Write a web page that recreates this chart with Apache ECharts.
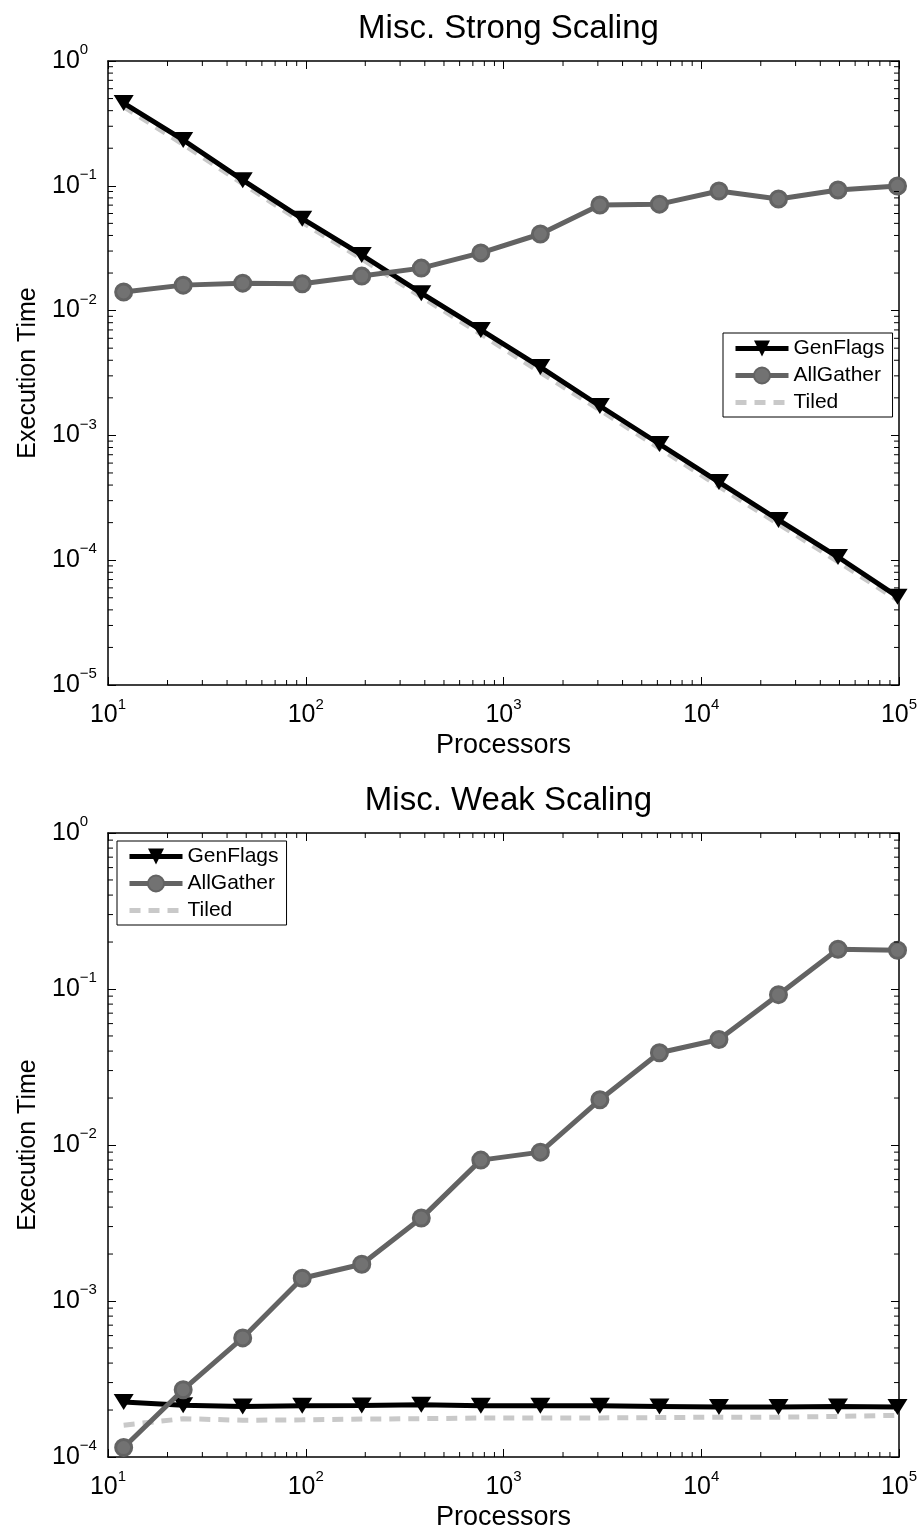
<!DOCTYPE html>
<html>
<head>
<meta charset="utf-8">
<script src="https://cdn.jsdelivr.net/npm/echarts@6/dist/echarts.min.js"></script>
<style>
html,body{margin:0;padding:0;background:#fff;}
#chart{width:922px;height:1533px;}
</style>
</head>
<body>
<div id="chart"></div>
<script>
// ---- data ----
const processors = [12, 24, 48, 96, 192, 384, 768, 1536, 3072, 6144, 12288, 24576, 49152, 98304];

const strongGenFlags = [0.46, 0.233, 0.111, 0.0545, 0.0279, 0.0138, 0.0070, 0.00353, 0.00172, 0.000853, 0.000423, 0.000210, 0.000106, 0.0000510];
const strongAllGather = [0.0141, 0.0160, 0.0166, 0.0164, 0.0189, 0.0219, 0.0290, 0.0411, 0.0702, 0.0713, 0.0908, 0.0784, 0.0925, 0.0996];
const strongTiled = [0.43, 0.215, 0.104, 0.051, 0.026, 0.0129, 0.0065, 0.0032, 0.0016, 0.00079, 0.00039, 0.000195, 0.0000975, 0.0000480];

const weakGenFlags = [0.000225, 0.000215, 0.000211, 0.000213, 0.000214, 0.000216, 0.000213, 0.000213, 0.000213, 0.000211, 0.000209, 0.000209, 0.000211, 0.000209];
const weakAllGather = [0.000115, 0.000270, 0.000580, 0.00140, 0.00172, 0.00340, 0.00800, 0.00900, 0.0195, 0.0390, 0.0475, 0.0920, 0.180, 0.177];
const weakTiled = [0.000160, 0.000176, 0.000172, 0.000173, 0.000175, 0.000176, 0.000178, 0.000178, 0.000178, 0.000179, 0.000180, 0.000180, 0.000182, 0.000185];

const seriesNames = ['GenFlags', 'AllGather', 'Tiled'];
const titles = ['Misc. Strong Scaling', 'Misc. Weak Scaling'];
const xLabel = 'Processors';
const yLabel = 'Execution Time';
const xRange = [10, 100000];
const yRanges = [[1e-5, 1], [1e-4, 1]];
// ---- end data ----

const FONT = 'Liberation Sans, Arial, Helvetica, sans-serif';
const chart = echarts.init(document.getElementById('chart'), null, {renderer: 'canvas'});

function minorValues(lo, hi) {
  const out = [];
  for (let e = Math.round(Math.log10(lo)); e < Math.round(Math.log10(hi)); e++) {
    for (let m = 2; m <= 9; m++) out.push(m * Math.pow(10, e));
  }
  return out;
}

function powLabel(v) {
  const e = Math.round(Math.log10(v));
  const s = e < 0 ? '\u2212' + (-e) : String(e);
  return '{b|10}{s|' + s + '}';
}
const richLabel = {
  b: {fontSize: 25, fontFamily: FONT, color: '#000', lineHeight: 25},
  s: {fontSize: 15, fontFamily: FONT, color: '#000', padding: [0, 0, 22, 0]}
};

const grids = [
  {left: 108, top: 61, width: 791, height: 624},
  {left: 108, top: 833, width: 791, height: 624}
];

const xAxes = [], yAxes = [], series = [], titleOpts = [], legends = [];
const lineColor = '#000';
const GEN_COLOR = '#000', ALL_COLOR = '#636363', TILED_COLOR = '#c9c9c9';

grids.forEach((g, gi) => {
  const yr = yRanges[gi];
  xAxes.push({
    type: 'log', logBase: 10, gridIndex: gi, min: xRange[0], max: xRange[1], position: 'bottom',
    name: xLabel, nameLocation: 'middle', nameGap: 47,
    nameTextStyle: {fontSize: 27, fontFamily: FONT, color: '#000'},
    axisLine: {show: true, lineStyle: {color: lineColor, width: 1.5}},
    axisTick: {show: true, inside: true, length: 8, lineStyle: {color: lineColor, width: 1}},
    axisLabel: {show: true, formatter: powLabel, rich: richLabel, margin: 12, showMinLabel: true, showMaxLabel: true},
    splitLine: {show: false}, minorTick: {show: false}
  });
  xAxes.push({
    type: 'log', logBase: 10, gridIndex: gi, min: xRange[0], max: xRange[1], position: 'top',
    axisLine: {show: true, lineStyle: {color: lineColor, width: 1.5}},
    axisTick: {show: true, inside: true, length: 8, lineStyle: {color: lineColor, width: 1}},
    axisLabel: {show: false}, splitLine: {show: false}
  });
  yAxes.push({
    type: 'log', logBase: 10, gridIndex: gi, min: yr[0], max: yr[1], position: 'left',
    name: yLabel, nameLocation: 'middle', nameGap: 67, nameRotate: 90,
    nameTextStyle: {fontSize: 25, fontFamily: FONT, color: '#000'},
    axisLine: {show: true, lineStyle: {color: lineColor, width: 1.5}},
    axisTick: {show: true, inside: true, length: 8, lineStyle: {color: lineColor, width: 1}},
    axisLabel: {show: true, formatter: powLabel, rich: richLabel, margin: 56, align: 'left', showMinLabel: true, showMaxLabel: true},
    splitLine: {show: false}
  });
  yAxes.push({
    type: 'log', logBase: 10, gridIndex: gi, min: yr[0], max: yr[1], position: 'right',
    axisLine: {show: true, lineStyle: {color: lineColor, width: 1.5}},
    axisTick: {show: true, inside: true, length: 8, lineStyle: {color: lineColor, width: 1}},
    axisLabel: {show: false}, splitLine: {show: false}
  });

  titleOpts.push({
    text: titles[gi], left: g.left + g.width / 2, top: g.top - 54, textAlign: 'center',
    textStyle: {fontSize: 33, fontWeight: 'normal', fontFamily: FONT, color: '#000'}
  });

  const xi = gi * 2, yi = gi * 2;
  const gen = gi === 0 ? strongGenFlags : weakGenFlags;
  const all = gi === 0 ? strongAllGather : weakAllGather;
  const til = gi === 0 ? strongTiled : weakTiled;
  const pairs = arr => processors.map((p, i) => [p, arr[i]]);

  series.push({
    name: 'GenFlags', type: 'line', xAxisIndex: xi, yAxisIndex: yi, data: pairs(gen),
    symbol: 'triangle', symbolRotate: 180, symbolSize: [20, 16], z: 3,
    lineStyle: {color: GEN_COLOR, width: 5}, itemStyle: {color: GEN_COLOR},
    emphasis: {disabled: true}, animation: false
  });
  series.push({
    name: 'AllGather', type: 'line', xAxisIndex: xi, yAxisIndex: yi, data: pairs(all),
    symbol: 'circle', symbolSize: 16, z: 4,
    lineStyle: {color: ALL_COLOR, width: 5}, itemStyle: {color: '#727272', borderColor: ALL_COLOR, borderWidth: 3},
    emphasis: {disabled: true}, animation: false
  });
  series.push({
    name: 'Tiled', type: 'line', xAxisIndex: xi, yAxisIndex: yi, data: pairs(til),
    symbol: 'none', z: 2,
    lineStyle: {color: TILED_COLOR, width: 5, type: [11, 8]}, itemStyle: {color: TILED_COLOR},
    emphasis: {disabled: true}, animation: false
  });

  // minor ticks at 2..9 per decade on all four sides
  const tickData = [];
  minorValues(xRange[0], xRange[1]).forEach(v => tickData.push([v, yr[0], 0]));
  minorValues(yr[0], yr[1]).forEach(v => tickData.push([xRange[0], v, 1]));
  series.push({
    type: 'custom', xAxisIndex: xi, yAxisIndex: yi, data: tickData, silent: true, clip: false,
    encode: {x: 0, y: 1}, z: 10, animation: false,
    renderItem: (params, api) => {
      const kind = api.value(2);
      const L = 5;
      const st = {stroke: '#000', lineWidth: 1};
      if (kind === 0) {
        const xv = api.value(0);
        const a = api.coord([xv, yr[0]]), b = api.coord([xv, yr[1]]);
        return {type: 'group', children: [
          {type: 'line', shape: {x1: a[0], y1: a[1], x2: a[0], y2: a[1] - L}, style: st},
          {type: 'line', shape: {x1: b[0], y1: b[1], x2: b[0], y2: b[1] + L}, style: st}
        ]};
      } else {
        const yv = api.value(1);
        const a = api.coord([xRange[0], yv]), b = api.coord([xRange[1], yv]);
        return {type: 'group', children: [
          {type: 'line', shape: {x1: a[0], y1: a[1], x2: a[0] + L, y2: a[1]}, style: st},
          {type: 'line', shape: {x1: b[0], y1: b[1], x2: b[0] - L, y2: b[1]}, style: st}
        ]};
      }
    }
  });
});

const legendData = [
  {name: 'GenFlags', lineStyle: {width: 5}},
  {name: 'AllGather', lineStyle: {width: 5}},
  {name: 'Tiled', lineStyle: {width: 5, type: [11, 8]}, itemStyle: {opacity: 0}}
];
const legendCommon = {
  orient: 'vertical', data: legendData, backgroundColor: '#fff', borderColor: '#000', borderWidth: 1,
  padding: [5, 8, 4, 10], itemGap: 6, itemWidth: 53, itemHeight: 20, selectedMode: false,
  textStyle: {fontSize: 21, fontFamily: FONT, color: '#000', lineHeight: 20}
};
legends.push(Object.assign({}, legendCommon, {left: 723, top: 333}));
legends.push(Object.assign({}, legendCommon, {left: 117, top: 841}));

chart.setOption({
  backgroundColor: '#fff',
  animation: false,
  title: titleOpts,
  legend: legends,
  grid: grids,
  xAxis: xAxes,
  yAxis: yAxes,
  series: series
});
</script>
</body>
</html>
